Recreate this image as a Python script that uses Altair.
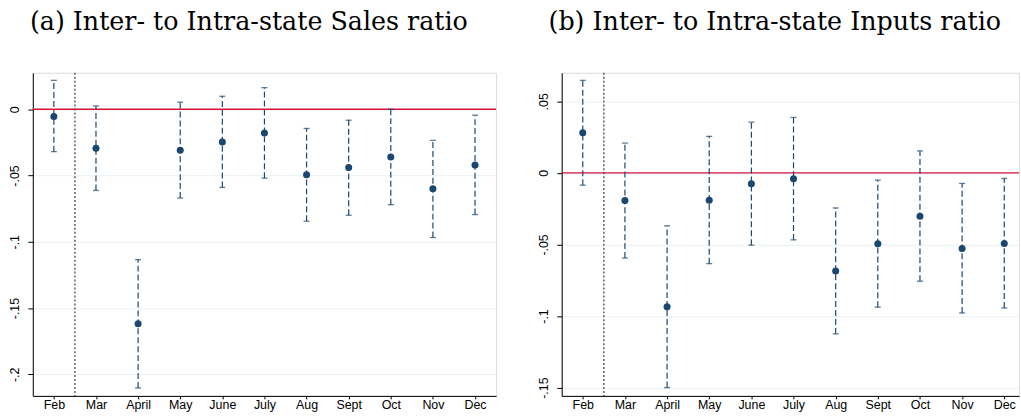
import json
import altair as alt
import pandas as pd

# Month labels along the horizontal axis
months = ["Feb", "Mar", "April", "May", "June", "July", "Aug", "Sept", "Oct", "Nov", "Dec"]

# (a) Inter- to intra-state sales ratio: point estimates and 95% CI bounds
sales_coef = [-0.0055, -0.0295, -0.1618, -0.0310, -0.0248, -0.0180, -0.0495, -0.0440, -0.0360, -0.0600, -0.0420]
sales_hi = [0.0218, 0.0025, -0.1135, 0.0053, 0.0098, 0.0163, -0.0145, -0.0083, 0.0000, -0.0235, -0.0045]
sales_lo = [-0.0320, -0.0613, -0.2103, -0.0670, -0.0590, -0.0520, -0.0845, -0.0800, -0.0720, -0.0968, -0.0795]

# (b) Inter- to intra-state inputs ratio: point estimates and 95% CI bounds
inputs_coef = [0.0280, -0.0194, -0.0935, -0.0192, -0.0076, -0.0042, -0.0685, -0.0495, -0.0303, -0.0528, -0.0493]
inputs_hi = [0.0646, 0.0208, -0.0370, 0.0255, 0.0354, 0.0387, -0.0245, -0.0051, 0.0153, -0.0074, -0.0039]
inputs_lo = [-0.0086, -0.0595, -0.1500, -0.0634, -0.0505, -0.0468, -0.1125, -0.0938, -0.0757, -0.0979, -0.0944]

# Y-axis ticks and their labels
sales_ticks = [0, -0.05, -0.1, -0.15, -0.2]
sales_tick_labels = ["0", "-.05", "-.1", "-.15", "-.2"]
inputs_ticks = [0.05, 0, -0.05, -0.1, -0.15]
inputs_tick_labels = [".05", "0", "-.05", "-.1", "-.15"]

NAVY = "#1a476f"
RED = "#dc0f3c"
GRID = "#eaf2f3"
SANS = "Liberation Sans"
SERIF = "DejaVu Serif"


def panel(title, coef, lo, hi, ticks, tick_labels, ydomain, xdomain, width):
    df = pd.DataFrame({
        "idx": list(range(1, len(months) + 1)),
        "month": months,
        "coef": coef,
        "lo": lo,
        "hi": hi,
    })
    xscale = alt.Scale(domain=xdomain, nice=False, zero=False)
    yscale = alt.Scale(domain=ydomain, nice=False, zero=False)
    xaxis = alt.Axis(
        values=list(range(1, len(months) + 1)),
        labelExpr=f"{json.dumps(months)}[datum.value - 1]",
        title=None, grid=False, tickSize=3, labelPadding=0,
        labelFont=SANS, labelFontSize=12.5, labelColor="black",
        domainColor="black", tickColor="black", domainWidth=1,
    )
    yaxis = alt.Axis(
        values=ticks,
        labelExpr=f"{json.dumps(tick_labels)}[indexof({json.dumps(ticks)}, datum.value)]",
        title=None, grid=True, gridColor=GRID, gridWidth=1,
        tickSize=5, labelPadding=9.5, labelAngle=270,
        labelAlign="center", labelBaseline="alphabetic",
        labelFont=SANS, labelFontSize=12.5, labelColor="black",
        domainColor="black", tickColor="black", domainWidth=1,
        minExtent=32, maxExtent=32,
    )
    x = alt.X("idx:Q", scale=xscale, axis=xaxis)

    zero = alt.Chart(pd.DataFrame({"v": [0]})).mark_rule(
        color=RED, strokeWidth=1.3
    ).encode(y=alt.Y("v:Q", scale=yscale, axis=yaxis))

    cut = alt.Chart(pd.DataFrame({"c": [1.5]})).mark_rule(
        color="#555555", strokeWidth=1.4, strokeDash=[2, 2]
    ).encode(x=alt.X("c:Q", scale=xscale, axis=xaxis))

    base = alt.Chart(df)
    bars = base.mark_rule(color=NAVY, strokeWidth=1.2, strokeDash=[6, 3]).encode(
        x=x, y=alt.Y("lo:Q", scale=yscale, axis=yaxis), y2="hi:Q"
    )
    cap_lo = base.mark_tick(color=NAVY, orient="horizontal", size=6, thickness=1.3).encode(
        x=x, y=alt.Y("lo:Q", scale=yscale, axis=yaxis)
    )
    cap_hi = base.mark_tick(color=NAVY, orient="horizontal", size=6, thickness=1.3).encode(
        x=x, y=alt.Y("hi:Q", scale=yscale, axis=yaxis)
    )
    points = base.mark_circle(color=NAVY, size=50, opacity=1).encode(
        x=x, y=alt.Y("coef:Q", scale=yscale, axis=yaxis)
    )
    return alt.layer(zero, cut, bars, cap_lo, cap_hi, points).properties(
        width=width, height=325,
        title=alt.TitleParams(
            title, font=SERIF, fontSize=25.5, fontWeight="normal", color="black",
            anchor="middle", frame="bounds", baseline="alphabetic", offset=17,
        ),
    )


left = panel("(a) Inter- to Intra-state Sales ratio", sales_coef, sales_lo, sales_hi,
             sales_ticks, sales_tick_labels, [-0.2163, 0.0275], [0.5, 11.5], 466)
right = panel("(b) Inter- to Intra-state Inputs ratio", inputs_coef, inputs_lo, inputs_hi,
              inputs_ticks, inputs_tick_labels, [-0.1558, 0.0699], [0.5, 11.35], 460)

chart = alt.hconcat(left, right, spacing=31).properties(
    padding={"left": 0, "top": 8, "right": 0, "bottom": 0},
).configure_view(stroke=None).configure(background="white")

chart.save("out.html", embed_options={"renderer": "svg", "actions": False})
